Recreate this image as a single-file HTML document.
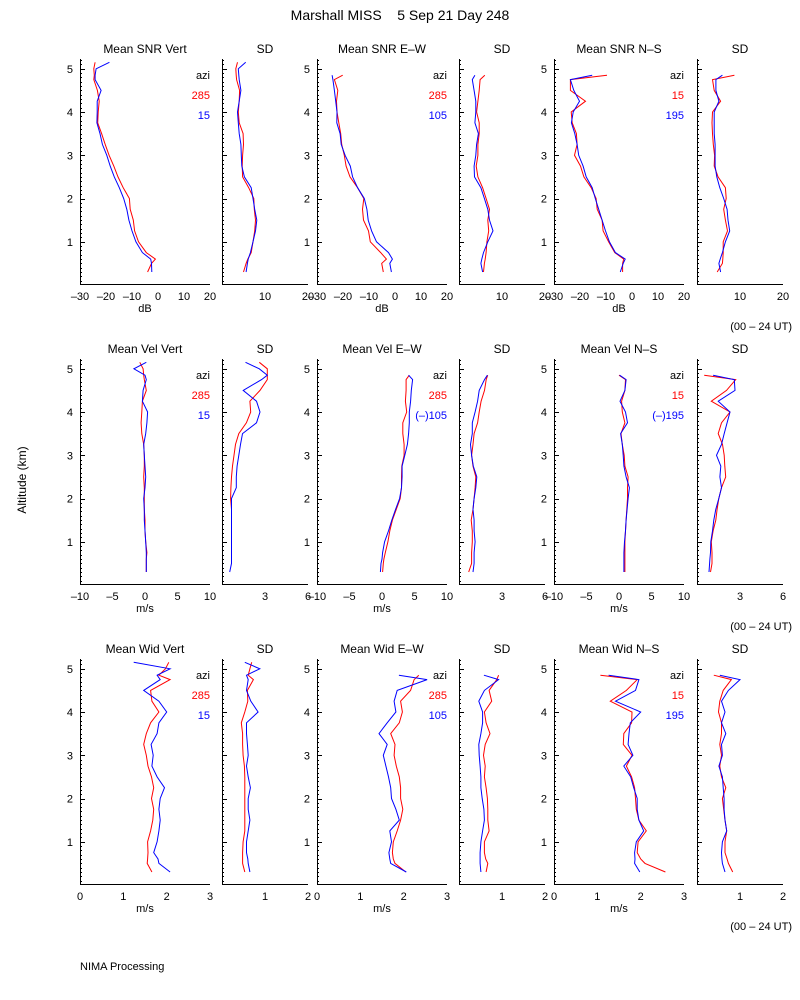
<!DOCTYPE html>
<html><head><meta charset="utf-8"><style>
html,body{margin:0;padding:0;background:#fff;}
svg{display:block;font-family:"Liberation Sans",sans-serif;}
</style></head><body>
<svg id="chart" width="800" height="1000" viewBox="0 0 800 1000" xmlns="http://www.w3.org/2000/svg">
<rect x="0" y="0" width="800" height="1000" fill="#fff"/>
<text x="400" y="20" font-size="14" text-anchor="middle" xml:space="preserve">Marshall MISS    5 Sep 21 Day 248</text>
<text x="26" y="480" font-size="12" text-anchor="middle" transform="rotate(-90 26 480)">Altitude (km)</text>
<text x="792" y="330" font-size="11" text-anchor="end">(00 – 24 UT)</text>
<text x="792" y="630" font-size="11" text-anchor="end">(00 – 24 UT)</text>
<text x="792" y="930" font-size="11" text-anchor="end">(00 – 24 UT)</text>
<text x="80" y="970" font-size="11">NIMA Processing</text>
<g id="panels"></g>
</svg>
<script>
const altitudes = [0.3,0.5,0.6,0.75,1.0,1.25,1.5,1.75,2.0,2.25,2.5,2.75,3.0,3.25,3.5,3.75,4.0,4.25,4.5,4.75,4.85,5.0,5.15];
const altTicks = [1,2,3,4,5];

const snrVertR = [-4,-2.5,-1,-4.5,-7.5,-9,-9.5,-10.7,-11,-13.4,-15.4,-17,-18.8,-20.3,-21.7,-23.2,-23,-22.6,-23.3,-24.7,-24.5,-24.7,-24.2];
const snrVertB = [-2.4,-2.5,-2.8,-6,-8.5,-10,-11.2,-12,-13.2,-14.9,-16.8,-18.4,-19.7,-21.4,-22.3,-23.5,-23.4,-23.4,-21.9,-24.2,-24.2,-23.8,-18.7];
const sdSnrVertR = [5.0,5.6,6.0,6.8,7.2,7.6,7.8,7.5,7.4,6.2,4.8,4.7,4.8,5.0,4.9,4.0,3.8,4.0,4.1,3.4,3.3,3.2,3.6];
const sdSnrVertB = [5.6,5.9,6.1,6.6,7.2,7.8,8.1,7.6,7.2,6.8,5.2,4.6,4.5,4.4,4.0,3.8,3.6,4.0,4.4,4.0,3.9,3.8,5.5];
const snrEWR = [-4.5,-5.1,-3.3,-5.5,-9.5,-10.2,-12.1,-12.5,-12,-14.4,-17.3,-18.8,-19.5,-20.5,-20.9,-21.6,-22.3,-22.5,-22,-23.3,-20.1,null,null];
const snrEWB = [-1.4,-2,-1,-2.5,-7.1,-9,-10.3,-10.8,-11.8,-14.4,-16.3,-17.2,-19.2,-20.7,-21.1,-22.4,-22.3,-22.8,-23.3,-23.9,-24.2,null,null];
const sdSnrEWR = [5.7,5.9,6.1,6.3,6.5,6.9,6.7,7.1,6.3,5.5,4.4,4.0,4.4,4.4,4.7,4.7,4.1,4.4,4.7,4.9,6.0,null,null];
const sdSnrEWB = [5.5,5.1,5.3,5.7,6.7,7.9,7.1,6.7,5.9,5.1,3.6,3.5,3.9,4.1,4.5,3.7,3.9,3.9,3.5,3.1,3.7,null,null];
const snrNSR = [-3.6,-3.6,-3.2,-6.6,-9,-11.1,-11.5,-13.4,-13.8,-15.7,-18.5,-19.8,-22.1,-21.1,-21.4,-23,-23.4,-17.9,-23.7,-23.7,-9.6,null,null];
const snrNSB = [-4.5,-3.4,-2.6,-6.4,-8.7,-10.2,-11.5,-12.8,-14.1,-15.3,-17.6,-18.8,-20.5,-21.1,-22,-23.3,-22.6,-20.2,-22.4,-23.7,-15.3,null,null];
const sdSnrNSR = [4.7,5.9,6.0,6.1,6.1,7.1,6.6,6.2,6.8,6.6,4.9,4.0,4.1,3.8,3.6,3.5,3.6,5.5,4.0,3.6,8.7,null,null];
const sdSnrNSB = [5.5,5.1,5.4,5.9,6.6,7.6,7.2,7.0,6.2,5.3,4.6,4.2,4.2,4.2,4.0,4.0,4.0,5.1,4.4,4.4,5.9,null,null];

const velVertR = [0.2,0.2,0.2,0.3,0.1,0,0,-0.1,-0.1,-0.1,-0.2,-0.1,-0.1,-0.2,-0.5,-0.6,-0.5,-0.4,0.2,-0.1,-0.2,-0.3,-0.8];
const velVertB = [0.2,0.2,0.2,0.2,0.1,0,-0.1,-0.1,-0.2,0,0.1,0,-0.1,-0.2,0.1,0.3,0.4,-0.4,-0.3,0.2,0,-1.7,0.2];
const sdVelVertR = [null,null,null,0.66,0.66,0.66,0.66,0.66,0.6,0.62,0.66,0.73,0.84,0.94,1.17,1.7,2.0,1.95,2.65,3.16,3.16,3.16,2.6];
const sdVelVertB = [0.54,0.66,0.66,0.66,0.66,0.66,0.66,0.66,0.66,1.0,1.0,1.05,1.17,1.29,1.43,2.41,2.65,2.41,1.48,2.76,3.16,2.6,1.64];
const velEWR = [0.1,0.2,0.3,0.5,0.9,1.2,1.6,2.2,2.8,3.0,3.0,3.05,3.4,3.4,3.2,3.2,3.8,3.6,3.7,3.7,4.2,null,null];
const velEWB = [-0.25,-0.15,0,0.1,0.4,1.0,1.5,2.1,2.7,3.0,3.1,3.1,3.5,3.9,4.1,4.2,4.2,4.4,4.5,4.7,4.1,null,null];
const sdVelEWR = [0.68,0.88,0.88,0.88,0.93,0.93,0.85,0.98,1.05,1.12,1.17,0.98,0.88,0.98,1.05,1.3,1.41,1.54,1.78,1.9,2.0,null,null];
const sdVelEWB = [0.98,1.05,1.05,1.05,1.12,1.05,1.05,0.98,1.05,1.17,1.24,1.0,0.88,0.8,0.93,0.93,1.12,1.3,1.41,1.78,1.98,null,null];
const velNSR = [0.9,0.9,0.9,0.9,0.9,1.0,1.1,1.2,1.3,1.3,1.4,0.9,0.8,0.5,0.3,0.9,0.5,0.4,0.9,1.0,0,null,null];
const velNSB = [0.75,0.75,0.75,0.75,0.85,1.0,1.1,1.25,1.4,1.6,1.1,0.75,0.65,0.5,0.25,1.3,1.0,0.15,0.9,1.1,0.1,null,null];
const sdVelNSR = [0.94,1.05,1.05,1.05,1.0,1.12,1.31,1.4,1.52,1.71,2.0,1.94,1.9,1.78,1.48,1.71,2.3,1.0,2.06,2.7,0.5,null,null];
const sdVelNSB = [0.84,0.88,0.9,0.94,0.96,1.08,1.17,1.31,1.52,1.71,1.6,1.66,1.36,1.71,1.9,2.1,2.3,1.48,2.65,2.6,1.12,null,null];

const widVertR = [1.66,1.55,1.56,1.57,1.56,1.63,1.68,1.7,1.65,1.7,1.65,1.57,1.53,1.47,1.53,1.63,1.82,1.66,1.63,2.08,1.82,1.97,2.05];
const widVertB = [2.08,1.82,1.8,1.7,1.78,1.82,1.85,1.82,1.85,1.95,1.78,1.66,1.69,1.64,1.78,1.82,2.0,1.82,1.47,1.85,1.78,2.08,1.24];
const sdWidVertR = [0.53,0.48,0.48,0.48,0.49,0.53,0.53,0.53,0.53,0.53,0.53,0.52,0.49,0.48,0.48,0.45,0.53,0.6,0.59,0.73,0.61,0.65,0.69];
const sdWidVertB = [0.65,0.61,0.6,0.57,0.57,0.61,0.65,0.61,0.61,0.66,0.61,0.57,0.61,0.59,0.57,0.57,0.84,0.67,0.57,0.61,0.57,0.88,0.53];
const widEWR = [2.05,1.8,1.76,1.74,1.76,1.85,1.93,1.98,1.93,1.93,1.9,1.83,1.78,1.8,1.7,1.9,1.97,1.93,2.16,2.24,2.35,null,null];
const widEWB = [2.06,1.7,1.68,1.66,1.72,1.68,1.9,1.82,1.72,1.7,1.65,1.59,1.53,1.62,1.43,1.62,1.82,1.78,1.85,2.54,1.89,null,null];
const sdWidEWR = [0.63,0.67,0.62,0.59,0.59,0.7,0.67,0.67,0.66,0.63,0.59,0.61,0.57,0.61,0.72,0.63,0.59,0.76,0.7,0.88,0.92,null,null];
const sdWidEWB = [0.51,0.49,0.49,0.49,0.51,0.55,0.59,0.58,0.54,0.51,0.51,0.49,0.47,0.46,0.51,0.55,0.55,0.46,0.59,0.92,0.58,null,null];
const widNSR = [2.57,2.1,2.0,1.92,1.94,2.13,1.96,1.9,1.88,1.86,1.79,1.67,1.8,1.6,1.61,1.79,1.8,1.3,1.67,1.92,1.07,null,null];
const widNSB = [1.98,1.86,1.87,1.86,1.9,2.07,1.96,1.92,1.92,1.84,1.77,1.61,1.82,1.71,1.73,1.76,2.0,1.42,1.88,1.96,1.26,null,null];
const sdWidNSR = [0.83,0.73,0.7,0.65,0.65,0.69,0.65,0.62,0.59,0.67,0.57,0.53,0.57,0.53,0.57,0.57,0.5,0.53,0.61,0.8,0.39,null,null];
const sdWidNSB = [0.65,0.59,0.58,0.57,0.59,0.69,0.65,0.63,0.63,0.61,0.59,0.51,0.59,0.57,0.67,0.57,0.65,0.57,0.73,1.0,0.53,null,null];

const snrTicks = [-30,-20,-10,0,10,20];
const sdSnrTicks = [10,20];
const velTicks = [-10,-5,0,5,10];
const sdVelTicks = [3,6];
const widTicks = [0,1,2,3];
const sdWidTicks = [1,2];

const NS = 'http://www.w3.org/2000/svg';
const root = document.getElementById('panels');
const rowBottoms = [284, 584, 884];
const rowTops = [59, 359, 659];
const KM = 43.25;

function el(tag, attrs, parent) {
  const e = document.createElementNS(NS, tag);
  for (const k in attrs) e.setAttribute(k, attrs[k]);
  parent.appendChild(e);
  return e;
}

const panels = [
  {row:0,x:80,w:130,min:-30,max:20,ticks:snrTicks,title:'Mean SNR Vert',unit:'dB',red:snrVertR,blue:snrVertB,leg:['285','15'],ylab:true},
  {row:0,x:222,w:86,min:0,max:20,ticks:sdSnrTicks,title:'SD',unit:'',red:sdSnrVertR,blue:sdSnrVertB},
  {row:0,x:317,w:130,min:-30,max:20,ticks:snrTicks,title:'Mean SNR E–W',unit:'dB',red:snrEWR,blue:snrEWB,leg:['285','105'],ylab:true},
  {row:0,x:459,w:86,min:0,max:20,ticks:sdSnrTicks,title:'SD',unit:'',red:sdSnrEWR,blue:sdSnrEWB},
  {row:0,x:554,w:130,min:-30,max:20,ticks:snrTicks,title:'Mean SNR N–S',unit:'dB',red:snrNSR,blue:snrNSB,leg:['15','195'],ylab:true},
  {row:0,x:697,w:86,min:0,max:20,ticks:sdSnrTicks,title:'SD',unit:'',red:sdSnrNSR,blue:sdSnrNSB},
  {row:1,x:80,w:130,min:-10,max:10,ticks:velTicks,title:'Mean Vel Vert',unit:'m/s',red:velVertR,blue:velVertB,leg:['285','15'],ylab:true},
  {row:1,x:222,w:86,min:0,max:6,ticks:sdVelTicks,title:'SD',unit:'',red:sdVelVertR,blue:sdVelVertB},
  {row:1,x:317,w:130,min:-10,max:10,ticks:velTicks,title:'Mean Vel E–W',unit:'m/s',red:velEWR,blue:velEWB,leg:['285','(–)105'],ylab:true},
  {row:1,x:459,w:86,min:0,max:6,ticks:sdVelTicks,title:'SD',unit:'',red:sdVelEWR,blue:sdVelEWB},
  {row:1,x:554,w:130,min:-10,max:10,ticks:velTicks,title:'Mean Vel N–S',unit:'m/s',red:velNSR,blue:velNSB,leg:['15','(–)195'],ylab:true},
  {row:1,x:697,w:86,min:0,max:6,ticks:sdVelTicks,title:'SD',unit:'',red:sdVelNSR,blue:sdVelNSB},
  {row:2,x:80,w:130,min:0,max:3,ticks:widTicks,title:'Mean Wid Vert',unit:'m/s',red:widVertR,blue:widVertB,leg:['285','15'],ylab:true},
  {row:2,x:222,w:86,min:0,max:2,ticks:sdWidTicks,title:'SD',unit:'',red:sdWidVertR,blue:sdWidVertB},
  {row:2,x:317,w:130,min:0,max:3,ticks:widTicks,title:'Mean Wid E–W',unit:'m/s',red:widEWR,blue:widEWB,leg:['285','105'],ylab:true},
  {row:2,x:459,w:86,min:0,max:2,ticks:sdWidTicks,title:'SD',unit:'',red:sdWidEWR,blue:sdWidEWB},
  {row:2,x:554,w:130,min:0,max:3,ticks:widTicks,title:'Mean Wid N–S',unit:'m/s',red:widNSR,blue:widNSB,leg:['15','195'],ylab:true},
  {row:2,x:697,w:86,min:0,max:2,ticks:sdWidTicks,title:'SD',unit:'',red:sdWidNSR,blue:sdWidNSB}
];

panels.forEach(function(p, i) {
  const bottom = rowBottoms[p.row], top = rowTops[p.row];
  const xs = function(v){ return p.x + (v - p.min) / (p.max - p.min) * p.w; };
  const ys = function(a){ return bottom + 1 - a * KM; };
  const g = el('g', {}, root);
  
  

  const t = el('text', {x: p.x + p.w / 2, y: top - 6, 'font-size': 12, 'text-anchor': 'middle'}, g);
  t.textContent = p.title;
  
  

  const ya = el('line', {x1: p.x + 0.5, y1: top, x2: p.x + 0.5, y2: bottom + 0.5, stroke: '#000', 'stroke-width': 1}, g);
  
  
  const xa = el('line', {x1: p.x, y1: bottom + 0.5, x2: p.x + p.w, y2: bottom + 0.5, stroke: '#000', 'stroke-width': 1}, g);
  
  

  let d = '';
  for (let k = 1; k <= 52; k++) {
    const yy = Math.round(ys(k / 10)) + 0.5;
    if (yy < top) break;
    const len = (k % 10 === 0) ? 5 : 2;
    d += 'M' + p.x + ' ' + yy + 'h' + len;
  }
  const mt = el('path', {d: d, stroke: '#000', 'stroke-width': 1, fill: 'none'}, g);
  
  

  if (p.ylab) {
    altTicks.forEach(function(a) {
      const tl = el('text', {x: p.x - 7, y: ys(a) + 4, 'font-size': 11, 'text-anchor': 'end'}, g);
      tl.textContent = a;
      
      
    });
  }
  p.ticks.forEach(function(v) {
    const tl = el('text', {x: xs(v), y: bottom + 16, 'font-size': 11, 'text-anchor': 'middle'}, g);
    tl.textContent = v < 0 ? '–' + (-v) : String(v);
    
    
  });
  if (p.unit) {
    const u = el('text', {x: p.x + p.w / 2, y: bottom + 28, 'font-size': 11, 'text-anchor': 'middle'}, g);
    u.textContent = p.unit;
    
    
  }
  [['red', '#ff0000', p.red], ['blue', '#0000ff', p.blue]].forEach(function(s) {
    let pd = '';
    let pen = false;
    s[2].forEach(function(v, j) {
      if (v === null || v === undefined) { pen = false; return; }
      pd += (pen ? 'L' : 'M') + xs(v).toFixed(1) + ' ' + ys(altitudes[j]).toFixed(1);
      pen = true;
    });
    const line = el('path', {d: pd, stroke: s[1], 'stroke-width': 1, fill: 'none'}, g);
    
    
  });
  if (p.leg) {
    const lx = p.x + p.w;
    const a1 = el('text', {x: lx, y: top + 20, 'font-size': 11, 'text-anchor': 'end'}, g);
    a1.textContent = 'azi';
    
    
    const a2 = el('text', {x: lx, y: top + 40, 'font-size': 11, 'text-anchor': 'end', fill: '#ff0000'}, g);
    a2.textContent = p.leg[0];
    
    
    const a3 = el('text', {x: lx, y: top + 60, 'font-size': 11, 'text-anchor': 'end', fill: '#0000ff'}, g);
    a3.textContent = p.leg[1];
    
    
  }
});
</script>
</body></html>
